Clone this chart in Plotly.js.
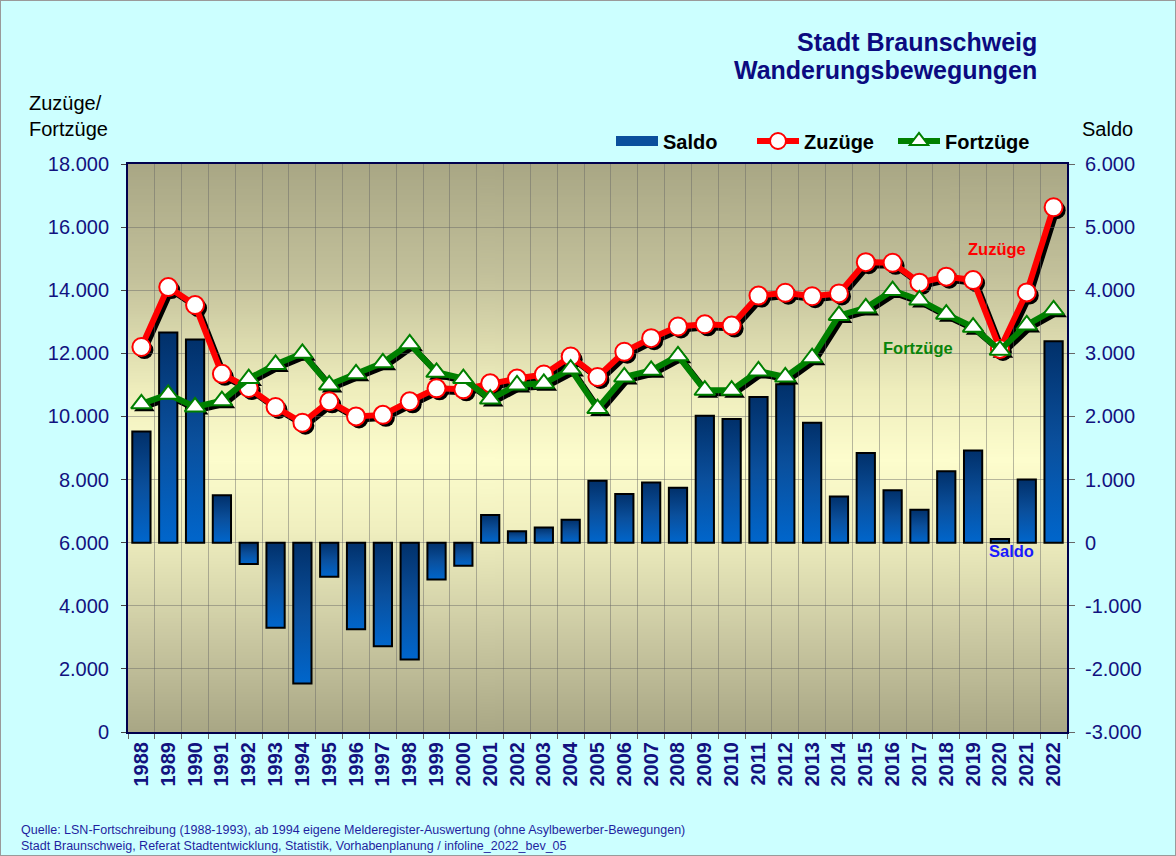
<!DOCTYPE html>
<html>
<head>
<meta charset="utf-8">
<script src="https://cdn.plot.ly/plotly-3.0.1.min.js"></script>
<style>
  html, body { margin:0; padding:0; background:#ccffff; }
  #wrap { position:relative; width:1176px; height:856px; }
  #chart { width:1176px; height:856px; }
  #frame { position:absolute; left:0; top:0; width:1176px; height:856px; box-sizing:border-box; border:1px solid #9a9a9a; pointer-events:none; }
</style>
</head>
<body>
<div id="wrap"><div id="chart"></div><div id="frame"></div></div>
<script>
const years = ['1988','1989','1990','1991','1992','1993','1994','1995','1996','1997','1998','1999','2000','2001','2002','2003','2004','2005','2006','2007','2008','2009','2010','2011','2012','2013','2014','2015','2016','2017','2018','2019','2020','2021','2022'];
const zuzuege = [12200,14100,13530,11350,10900,10300,9800,10480,10000,10050,10480,10890,10860,11050,11200,11330,11900,11250,12050,12480,12850,12920,12880,13830,13920,13810,13900,14890,14870,14240,14430,14320,12140,13930,16630];
const fortzuege = [10400,10700,10300,10500,11200,11650,12000,11000,11350,11700,12300,11400,11200,10550,11000,11050,11500,10250,11250,11460,11920,10830,10830,11440,11250,11860,13200,13440,13990,13690,13240,12830,12100,12900,13380];
const saldo = [1760,3330,3220,750,-340,-1350,-2230,-540,-1370,-1640,-1850,-585,-365,440,180,240,365,980,770,955,870,2010,1960,2310,2510,1900,730,1420,830,520,1130,1460,60,1000,3190];
const leftTickVals = [0,2000,4000,6000,8000,10000,12000,14000,16000,18000];
const leftTickText = ['0','2.000','4.000','6.000','8.000','10.000','12.000','14.000','16.000','18.000'];
const rightTickVals = [-3000,-2000,-1000,0,1000,2000,3000,4000,5000,6000];
const rightTickText = ['-3.000','-2.000','-1.000','0','1.000','2.000','3.000','4.000','5.000','6.000'];

const FONT = 'Arial, "Liberation Sans", sans-serif';
const NAVY = '#12127f';
const W = 945, H = 571;

// plot background gradient
const cv = document.createElement('canvas');
cv.width = 4; cv.height = 400;
const cx = cv.getContext('2d');
const g = cx.createLinearGradient(0,0,0,400);
g.addColorStop(0, '#a9a785');
g.addColorStop(0.2, '#c3c19b');
g.addColorStop(0.4, '#efeebd');
g.addColorStop(0.52, '#fdfdcd');
g.addColorStop(0.64, '#f1f0c0');
g.addColorStop(0.82, '#cdcba4');
g.addColorStop(1, '#a9a785');
cx.fillStyle = g; cx.fillRect(0,0,4,400);
const bgURL = cv.toDataURL();

const traces = [
  {type:'scatter', x:years, y:zuzuege, xaxis:'x', yaxis:'y', mode:'lines+markers',
   line:{color:'#000', width:6}, marker:{symbol:'circle', size:18, color:'#000'},
   showlegend:false, hoverinfo:'skip'},
  {type:'scatter', x:years, y:fortzuege, xaxis:'x', yaxis:'y', mode:'lines+markers',
   line:{color:'#000', width:6}, marker:{symbol:'triangle-up', size:18, color:'#000'},
   showlegend:false, hoverinfo:'skip'},
  {type:'bar', x:years, y:saldo, xaxis:'x2', yaxis:'y2', name:'Saldo',
   marker:{color:'#0a4f9c', line:{color:'#000', width:2}}, showlegend:false},
  {type:'scatter', x:[null], y:[null], xaxis:'x2', yaxis:'y2', mode:'lines', name:'Saldo',
   line:{color:'#0a4f9c', width:12}, legendrank:1},
  {type:'scatter', x:years, y:zuzuege, xaxis:'x2', yaxis:'y3', mode:'lines+markers', name:'Zuzüge',
   line:{color:'#ff0000', width:6}, marker:{symbol:'circle', size:18, color:'#ffffff', line:{color:'#ff0000', width:2}}, legendrank:2},
  {type:'scatter', x:years, y:fortzuege, xaxis:'x2', yaxis:'y3', mode:'lines+markers', name:'Fortzüge',
   line:{color:'#008000', width:6}, marker:{symbol:'triangle-up', size:18, color:'#ffffff', line:{color:'#008000', width:2}}, legendrank:3}
];

const px = v => (v - 125) / W;
const py = v => (735 - v) / H;

const layout = {
  width:1176, height:856, autosize:false,
  margin:{l:125, r:106, t:164, b:121, pad:0, autoexpand:false},
  paper_bgcolor:'#ccffff', plot_bgcolor:'rgba(0,0,0,0)',
  font:{family:FONT, color:'#000'},
  bargap:0.32,
  showlegend:true,
  legend:{orientation:'h', x:px(611), y:py(141), xanchor:'left', yanchor:'middle',
          font:{family:FONT, size:20, color:'#000', weight:700}, bgcolor:'rgba(0,0,0,0)',
          itemwidth:42, entrywidth:84, entrywidthmode:'pixels', traceorder:'normal'},
  xaxis:{type:'category', domain:[6/W, 1], anchor:'y', visible:false, range:[-0.5, 34.5], fixedrange:true},
  yaxis:{domain:[0, 568/H], anchor:'x', visible:false, range:[0,18000], fixedrange:true},
  xaxis2:{type:'category', domain:[3/W, 942/W], anchor:'y2', range:[-0.5, 34.5],
          tickson:'boundaries', ticks:'outside', ticklen:5, tickcolor:'#666', tickangle:-90,
          tickfont:{family:FONT, size:20, color:NAVY, weight:700},
          showgrid:true, gridcolor:'rgba(100,100,100,0.45)', gridwidth:1,
          showline:true, linecolor:'#00004d', linewidth:2, mirror:true, fixedrange:true},
  yaxis2:{domain:[3/H, 1], anchor:'x2', side:'right', range:[-3000, 6000],
          tickvals:rightTickVals, ticktext:rightTickText, ticks:'outside', ticklen:6, tickcolor:'#666',
          tickfont:{family:FONT, size:20, color:NAVY}, ticklabelstandoff:6,
          showgrid:true, gridcolor:'rgba(100,100,100,0.45)', gridwidth:1, zeroline:false,
          showline:true, linecolor:'#00004d', linewidth:2, mirror:true, fixedrange:true},
  yaxis3:{overlaying:'y2', anchor:'x2', side:'left', range:[0,18000],
          tickvals:leftTickVals, ticktext:leftTickText, ticks:'outside', ticklen:5, tickcolor:'#444',
          tickfont:{family:FONT, size:20, color:NAVY}, ticklabelstandoff:8,
          showgrid:false, zeroline:false, showline:true, linecolor:'#00004d', linewidth:2, fixedrange:true},
  images:[{source:bgURL, xref:'paper', yref:'paper', x:3/W, y:1, sizex:939/W, sizey:568/H,
           xanchor:'left', yanchor:'top', sizing:'stretch', layer:'below'}],
  annotations:[
    {text:'Stadt Braunschweig', xref:'paper', yref:'paper', x:px(1039), y:py(42),
     xanchor:'right', yanchor:'middle', align:'right', showarrow:false,
     font:{family:FONT, size:25, color:'#0b0b80', weight:700}},
    {text:'Wanderungsbewegungen', xref:'paper', yref:'paper', x:px(1039), y:py(70),
     xanchor:'right', yanchor:'middle', align:'right', showarrow:false,
     font:{family:FONT, size:25, color:'#0b0b80', weight:700}},
    {text:'Zuzüge/<br>Fortzüge', xref:'paper', yref:'paper', x:px(27), y:py(116),
     xanchor:'left', yanchor:'middle', align:'left', showarrow:false,
     font:{family:FONT, size:20, color:'#000'}},
    {text:'Saldo', xref:'paper', yref:'paper', x:px(1107.5), y:py(129),
     xanchor:'center', yanchor:'middle', showarrow:false,
     font:{family:FONT, size:20, color:'#000'}},
    {text:'Zuzüge', xref:'paper', yref:'paper', x:px(997), y:py(249),
     xanchor:'center', yanchor:'middle', showarrow:false,
     font:{family:FONT, size:16.5, color:'#ff0000', weight:700}},
    {text:'Fortzüge', xref:'paper', yref:'paper', x:px(917.5), y:py(348),
     xanchor:'center', yanchor:'middle', showarrow:false,
     font:{family:FONT, size:16.5, color:'#0a840a', weight:700}},
    {text:'Saldo', xref:'paper', yref:'paper', x:px(1011.5), y:py(551),
     xanchor:'center', yanchor:'middle', showarrow:false,
     font:{family:FONT, size:16.5, color:'#1a1aff', weight:700}},
    {text:'Quelle: LSN-Fortschreibung (1988-1993), ab 1994 eigene Melderegister-Auswertung (ohne Asylbewerber-Bewegungen)<br>Stadt Braunschweig, Referat Stadtentwicklung, Statistik, Vorhabenplanung / infoline_2022_bev_05',
     xref:'paper', yref:'paper', x:px(19), y:py(837.5), xanchor:'left', yanchor:'middle', align:'left', showarrow:false,
     font:{family:FONT, size:12.5, color:'#1f1fa0'}}
  ]
};

function styleBars() {
  const svg = document.querySelector('#chart .main-svg');
  if (!svg) return;
  let defs = svg.querySelector('defs');
  if (!defs) { defs = document.createElementNS('http://www.w3.org/2000/svg','defs'); svg.insertBefore(defs, svg.firstChild); }
  if (!svg.querySelector('#barGrad')) {
    const lg = document.createElementNS('http://www.w3.org/2000/svg','linearGradient');
    lg.setAttribute('id','barGrad'); lg.setAttribute('x1','0'); lg.setAttribute('y1','0'); lg.setAttribute('x2','0'); lg.setAttribute('y2','1');
    [['0','#01306a'],['0.5','#0a4f9c'],['1','#0066cc']].forEach(([o,c]) => {
      const s = document.createElementNS('http://www.w3.org/2000/svg','stop');
      s.setAttribute('offset', o); s.setAttribute('stop-color', c); lg.appendChild(s);
    });
    defs.appendChild(lg);
  }
  document.querySelectorAll('#chart .barlayer .point path').forEach(p => { p.style.fill = 'url(#barGrad)'; });
}

Plotly.newPlot('chart', traces, layout, {displayModeBar:false, staticPlot:true}).then(styleBars);
</script>
</body>
</html>
